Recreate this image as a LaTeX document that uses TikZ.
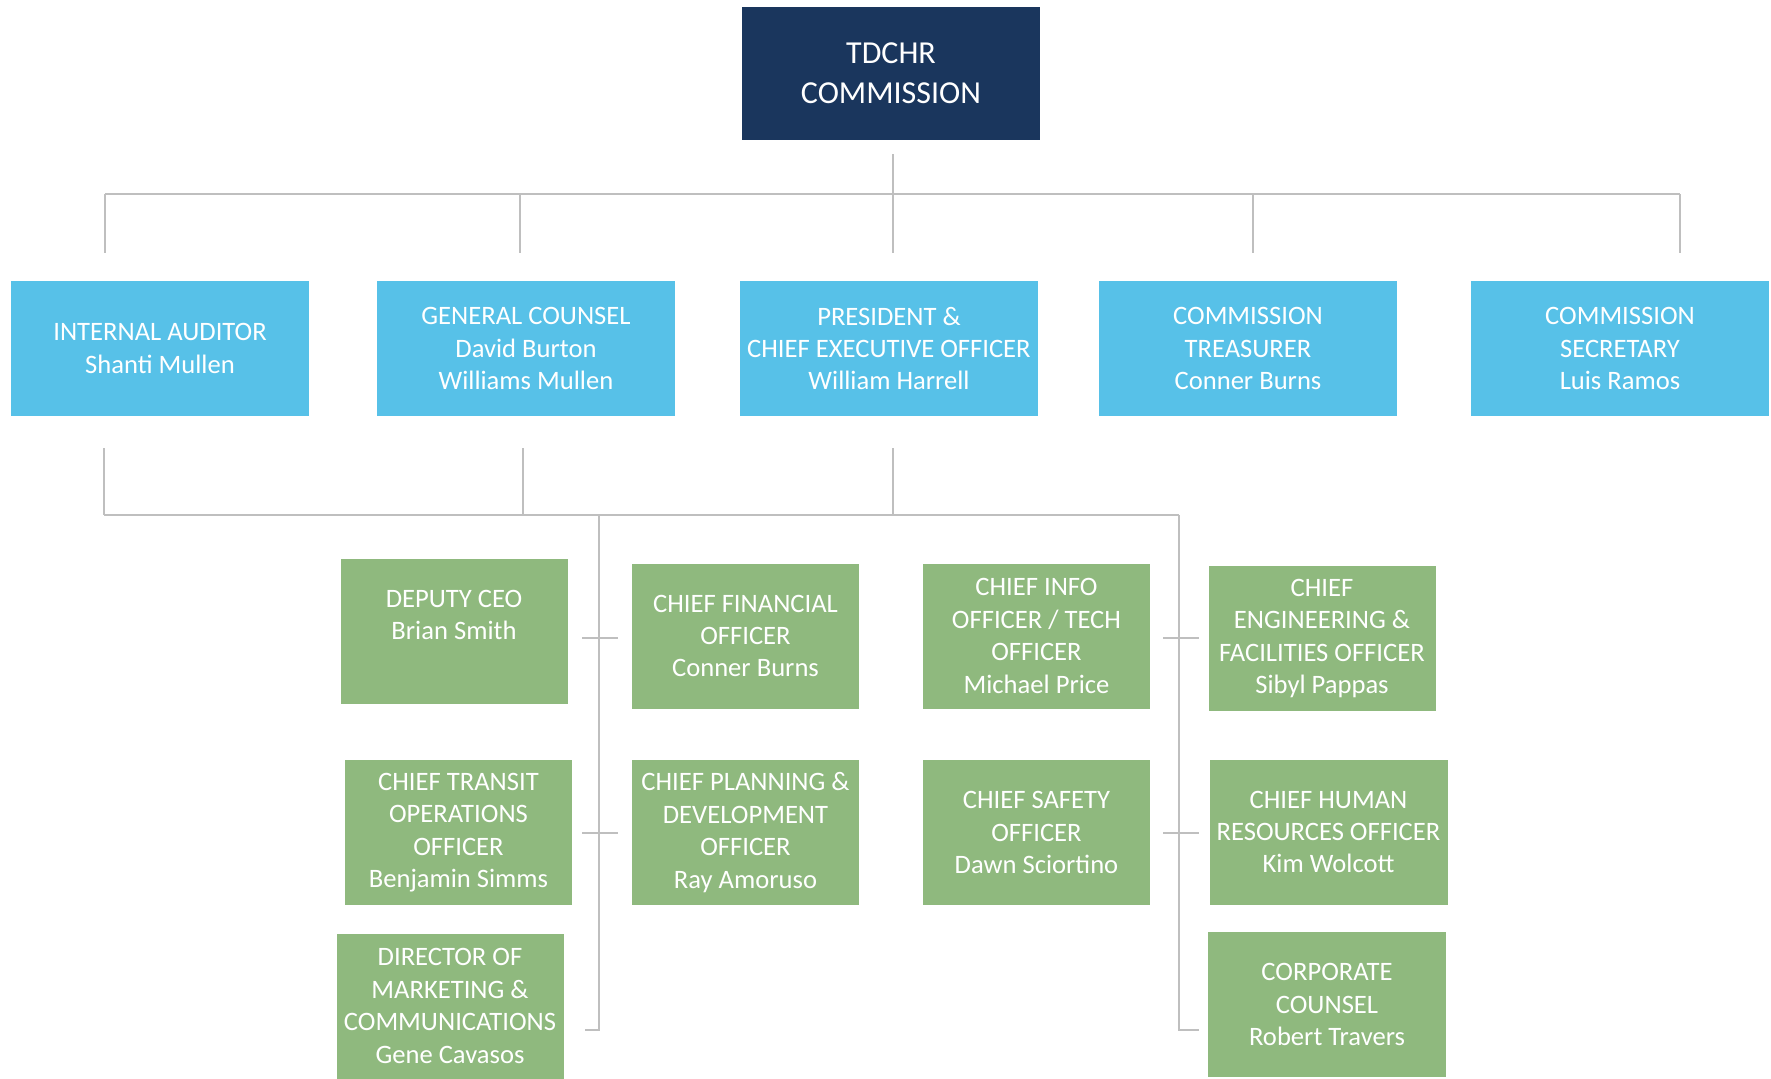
\documentclass[tikz,border=0pt]{standalone}
\usepackage{fontspec}
\setmainfont{Carlito}
\usepackage{xcolor}
\usepackage{tikz}
\usetikzlibrary{positioning}
\tikzset{
	unit/.style={text=white, align=center, inner sep=0pt, font=\fontsize{13.3}{16.2}\selectfont},
	board/.style={unit, fill=NavyBox, minimum width=149pt, minimum height=66.5pt, font=\fontsize{16}{20}\selectfont},
	officer/.style={unit, fill=SkyBox, minimum width=149pt, minimum height=67.5pt},
	staff/.style={unit, fill=SageBox, minimum width=113.5pt, minimum height=72.5pt},
	widestaff/.style={staff, minimum width=119pt},
	wire/.style={draw=LineGray, line width=0.8pt},
}
\definecolor{NavyBox}{RGB}{26, 54, 93}
\definecolor{SkyBox}{RGB}{87, 193, 232}
\definecolor{SageBox}{RGB}{143, 185, 126}
\definecolor{LineGray}{RGB}{191, 191, 191}

\begin{document}
\begin{tikzpicture}[x=0.5pt, y=-0.5pt]
	\useasboundingbox (0,0) rectangle (1771,1078);

	% commission and the officers it appoints
	\node[board] (board) at (891,73.5) {TDCHR\\COMMISSION};
	\node[officer] (auditor) at (160,348.5) {INTERNAL AUDITOR\\Shanti Mullen};
	\node[officer] (counsel) at (526,348.5) {GENERAL COUNSEL\\David Burton\\Williams Mullen};
	\node[officer] (ceo) at (889,348.5) {PRESIDENT \&\\CHIEF EXECUTIVE OFFICER\\William Harrell};
	\node[officer] (treasurer) at (1248,348.5) {COMMISSION\\TREASURER\\Conner Burns};
	\node[officer] (secretary) at (1620,348.5) {COMMISSION\\SECRETARY\\Luis Ramos};

	% staff
	\node[staff] (deputy) at (454,631) {DEPUTY CEO\\Brian Smith\\~};
	\node[staff] (cfo) at (745.5,636) {CHIEF FINANCIAL\\OFFICER\\Conner Burns};
	\node[staff] (cio) at (1036.5,636) {CHIEF INFO\\OFFICER / TECH\\OFFICER\\Michael Price};
	\node[staff] (engineering) at (1322,638.5) {CHIEF\\ENGINEERING \&\\FACILITIES OFFICER\\Sibyl Pappas};
	\node[staff] (transit) at (458.5,832.5) {CHIEF TRANSIT\\OPERATIONS\\OFFICER\\Benjamin Simms};
	\node[staff] (planning) at (745.5,832.5) {CHIEF PLANNING \&\\DEVELOPMENT\\OFFICER\\Ray Amoruso};
	\node[staff] (safety) at (1036.5,832.5) {CHIEF SAFETY\\OFFICER\\Dawn Sciortino};
	\node[widestaff] (hr) at (1328.5,832) {CHIEF HUMAN\\RESOURCES OFFICER\\Kim Wolcott};
	\node[staff] (marketing) at (450,1006) {DIRECTOR OF\\MARKETING \&\\COMMUNICATIONS\\Gene Cavasos};
	\node[widestaff] (corpcounsel) at (1327,1004.5) {CORPORATE\\COUNSEL\\Robert Travers};

	% upper tree
	\coordinate (trunk) at (893,154);
	\coordinate (barW) at (105,194);
	\coordinate (barE) at (1680,194);
	\draw[wire] (trunk) -- (trunk |- barW);
	\draw[wire] (barW) -- (barE);
	\foreach \x in {105,520,893,1253,1680}
		\draw[wire] (\x,194) -- (\x,253);

	% lower tree
	\coordinate (busW) at (104,515);
	\coordinate (busE) at (1179,515);
	\foreach \x in {104,523,893}
		\draw[wire] (\x,448) -- (\x,515);
	\draw[wire] (busW) -- (busE);
	\draw[wire] (599,515) -- (599,1030) -- (585,1030);
	\draw[wire] (busE) -- (1179,1030) -- (1199,1030);
	\foreach \y in {638,833}{
		\draw[wire] (582,\y) -- (618,\y);
		\draw[wire] (1163,\y) -- (1199,\y);
	}
\end{tikzpicture}
\end{document}
